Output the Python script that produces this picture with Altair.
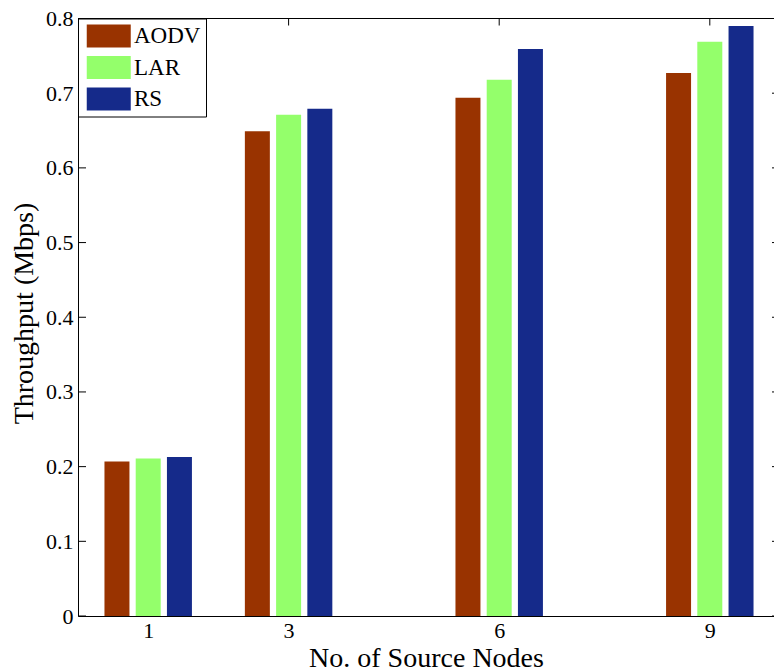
import altair as alt
import pandas as pd

# Throughput per routing protocol vs. number of source nodes
nodes = [1, 3, 6, 9]
protocols = ["AODV", "LAR", "RS"]
aodv = [0.207, 0.649, 0.694, 0.727]
lar = [0.211, 0.671, 0.718, 0.769]
rs = [0.213, 0.679, 0.759, 0.790]
y_ticks = [0, 0.1, 0.2, 0.3, 0.4, 0.5, 0.6, 0.7, 0.8]

colors = ["#993300", "#94FF6B", "#152A8A"]

rows = []
for name, vals in zip(protocols, [aodv, lar, rs]):
    for n, v in zip(nodes, vals):
        rows.append({"nodes": n, "protocol": name, "throughput": v})
df = pd.DataFrame(rows)

W, H = 696, 597.5
X_MAX = W / 70.2          # x scale: 0 .. ~9.9 data units over the view
SLOT = 0.445              # spacing between bars inside a group (x units)
HALF = 0.178              # half bar width (x units)

font = "Liberation Serif"
x_scale = alt.Scale(domain=[0, X_MAX], nice=False, zero=False)
y_scale = alt.Scale(domain=[0, 0.8], nice=False)

slot_expr = "datum.protocol == 'AODV' ? -1 : (datum.protocol == 'LAR' ? 0 : 1)"

bars = (
    alt.Chart(df)
    .transform_calculate(slot=slot_expr)
    .transform_calculate(
        x0=f"datum.nodes + datum.slot * {SLOT} - {HALF}",
        x1=f"datum.nodes + datum.slot * {SLOT} + {HALF}",
    )
    .mark_bar(clip=True)
    .encode(
        x=alt.X(
            "x0:Q",
            scale=x_scale,
            axis=alt.Axis(
                values=nodes, ticks=False, grid=False, domain=True,
                labelFont=font, labelFontSize=22, labelPadding=4, format="d",
                title="No. of Source Nodes", titleFont=font,
                titleY=50, titleBaseline="alphabetic",
            ),
        ),
        x2="x1:Q",
        y=alt.Y(
            "throughput:Q",
            scale=y_scale,
            axis=alt.Axis(
                values=y_ticks, ticks=False, grid=False, domain=True,
                labelFont=font, labelFontSize=22, labelPadding=5,
                labelExpr="datum.value == 0 ? '0' : format(datum.value, '.1f')",
                title="Throughput (Mbps)", titleFont=font,
                titleX=-54, titleY=294.5, titleAlign="center",
                titleBaseline="middle", titleAngle=270,
            ),
        ),
        y2=alt.datum(0),
        color=alt.Color(
            "protocol:N",
            scale=alt.Scale(domain=protocols, range=colors),
            sort=protocols,
            legend=alt.Legend(
                title=None, orient="none", legendX=0, legendY=0,
                symbolType="M-0.7,-0.92H2.82V0.92H-0.7Z",
                symbolSize=625, symbolStrokeWidth=0, symbolOpacity=1,
                labelFont=font, labelFontSize=23, labelColor="black",
                labelOffset=26, rowPadding=6.5, padding=5,
                strokeColor="black", fillColor="white",
            ),
        ),
    )
)

# inward tick marks on left / right / top / bottom edges
ytick_df = pd.DataFrame({"v": y_ticks})
xtick_df = pd.DataFrame({"n": nodes})

left_ticks = alt.Chart(ytick_df).mark_rule(color="black", strokeWidth=1).encode(
    y=alt.Y("v:Q", scale=y_scale), x=alt.value(0), x2=alt.value(8)
)
right_ticks = alt.Chart(ytick_df).mark_rule(color="black", strokeWidth=1).encode(
    y=alt.Y("v:Q", scale=y_scale), x=alt.value(W - 2), x2=alt.value(W)
)
top_ticks = alt.Chart(xtick_df).mark_rule(color="black", strokeWidth=1).encode(
    x=alt.X("n:Q", scale=x_scale), y=alt.value(0), y2=alt.value(7)
)
bottom_ticks = alt.Chart(xtick_df).mark_rule(color="black", strokeWidth=1).encode(
    x=alt.X("n:Q", scale=x_scale), y=alt.value(H - 7), y2=alt.value(H)
)
top_line = alt.Chart(xtick_df).mark_rule(color="black", strokeWidth=1).encode(
    x=alt.value(0), x2=alt.value(W), y=alt.value(0)
)

chart = (
    alt.layer(bottom_ticks, bars, left_ticks, right_ticks, top_ticks, top_line)
    .properties(
        width=W, height=H,
        autosize=alt.AutoSizeParams(type="none"),
        padding={"left": 78, "top": 18.5, "right": 0, "bottom": 54},
        background="white",
    )
    .configure_view(stroke=None)
    .configure_axis(
        labelFont=font, labelFontSize=22, labelColor="black",
        titleFont=font, titleFontSize=28, titleFontWeight="normal",
        titleColor="black", domainColor="black", domainWidth=1,
        ticks=False, grid=False,
    )
)

chart.save("out.html", embed_options={"renderer": "svg", "actions": False})
